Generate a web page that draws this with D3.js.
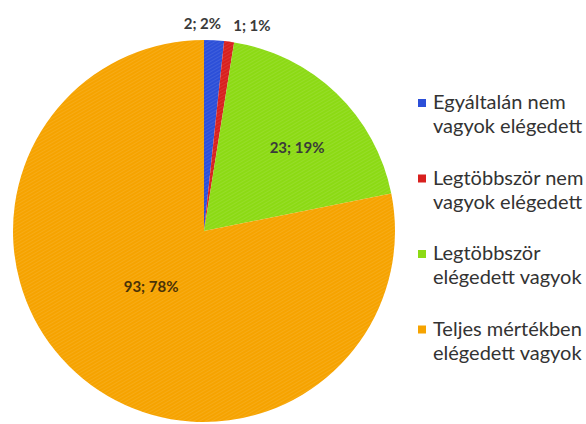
<!DOCTYPE html>
<html>
<head>
<meta charset="utf-8">
<script src="https://cdn.jsdelivr.net/npm/d3@7"></script>
<style>
  html, body { margin: 0; padding: 0; background: #ffffff; }
  svg { display: block; }
</style>
</head>
<body>
<svg id="chart" width="586" height="424"></svg>
<script>
// ---- data ----
const categories = [
  "Egyáltalán nem vagyok elégedett",
  "Legtöbbször nem vagyok elégedett",
  "Legtöbbször elégedett vagyok",
  "Teljes mértékben elégedett vagyok"
];
const legendLines = [
  ["Egyáltalán nem", "vagyok elégedett"],
  ["Legtöbbször nem", "vagyok elégedett"],
  ["Legtöbbször", "elégedett vagyok"],
  ["Teljes mértékben", "elégedett vagyok"]
];
const values = [2, 1, 23, 93];
const percentLabels = ["2%", "1%", "19%", "78%"];
const colors = ["#2c4fd8", "#d8201e", "#8cda14", "#f6a300"];

// ---- layout ----
const svg = d3.select("#chart");
const cx = 204, cy = 231, r = 191;
const font = "Lato, 'Open Sans', 'DejaVu Sans', sans-serif";

// subtle diagonal texture like the scanned original
const defs = svg.append("defs");
const pat = defs.append("pattern")
  .attr("id", "hatch")
  .attr("patternUnits", "userSpaceOnUse")
  .attr("width", 3).attr("height", 3)
  .attr("patternTransform", "rotate(-30)");
pat.append("line").attr("x1", 0).attr("y1", 0).attr("x2", 3).attr("y2", 0)
  .attr("stroke", "#ffffff").attr("stroke-width", 1).attr("stroke-opacity", 0.18);

const pie = d3.pie().sort(null).value(d => d)
  .startAngle(0).endAngle(2 * Math.PI);
const arcs = pie(values);
const arc = d3.arc().innerRadius(0).outerRadius(r);

const g = svg.append("g").attr("transform", `translate(${cx},${cy})`);
g.selectAll("path.slice")
  .data(arcs)
  .join("path")
  .attr("class", "slice")
  .attr("d", arc)
  .attr("fill", (d, i) => colors[i]);
g.selectAll("path.tex")
  .data(arcs)
  .join("path")
  .attr("class", "tex")
  .attr("d", arc)
  .attr("fill", "url(#hatch)");

// ---- data labels ----
const labelText = (i) => `${values[i]}; ${percentLabels[i]}`;
// label radius (fraction of r) and nudge for each slice
const labelRadius = [1.03, 1.03, 0.62, 0.47];
const labelNudge = [[-12, -6], [22, -5], [11, 7], [4, -8]];
const labelPos = arcs.map((d, i) => {
  const rr = r * labelRadius[i];
  const c = d3.arc().innerRadius(rr).outerRadius(rr).centroid(d);
  return [c[0] + labelNudge[i][0], c[1] + labelNudge[i][1]];
});
g.selectAll("text.lbl")
  .data(arcs)
  .join("text")
  .attr("class", "lbl")
  .attr("x", (d, i) => labelPos[i][0])
  .attr("y", (d, i) => labelPos[i][1])
  .attr("text-anchor", "middle")
  .attr("font-family", font)
  .attr("font-weight", "bold")
  .attr("font-size", 15)
  .attr("fill", (d, i) => i === 3 ? "#4a3208" : "#3a3a3a")
  .text((d, i) => labelText(i));

// ---- legend ----
const legend = svg.append("g").attr("transform", "translate(418,0)");
const rowY = d3.scaleLinear().domain([0, 1]).range([109, 184.5]);
const items = legend.selectAll("g.item")
  .data(categories)
  .join("g")
  .attr("class", "item")
  .attr("transform", (d, i) => `translate(0,${rowY(i)})`);
items.append("rect")
  .attr("x", 0).attr("y", -10)
  .attr("width", 8).attr("height", 8)
  .attr("fill", (d, i) => colors[i]);
items.each(function (d, i) {
  const t = d3.select(this).append("text")
    .attr("font-family", font)
    .attr("font-size", 20)
    .attr("fill", "#333333");
  legendLines[i].forEach((line, k) => {
    t.append("tspan").attr("x", 15).attr("y", k * 24).text(line);
  });
});
</script>
</body>
</html>
